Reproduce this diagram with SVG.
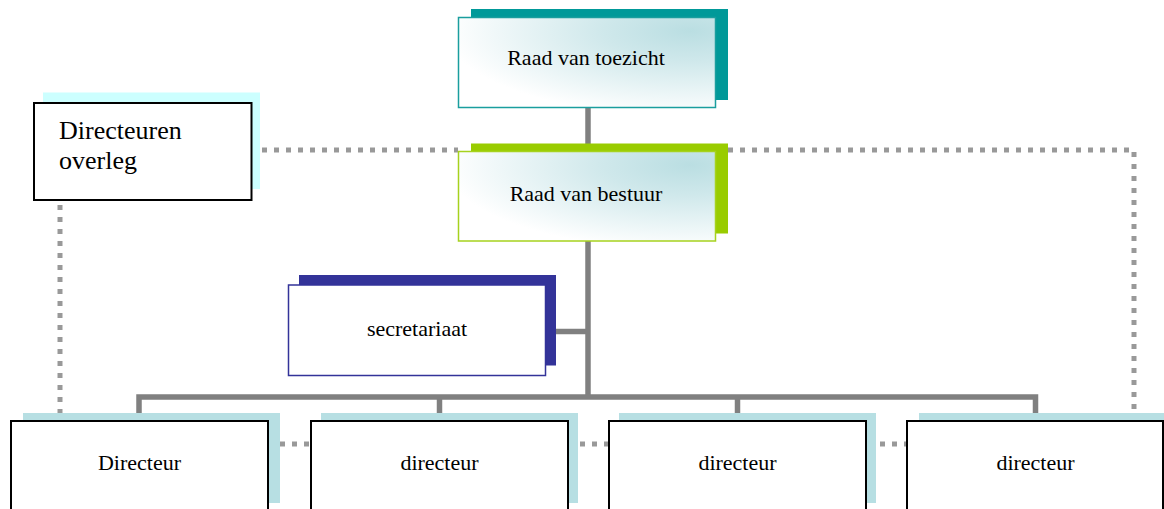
<svg xmlns="http://www.w3.org/2000/svg" width="1164" height="509" viewBox="0 0 1164 509">
<defs>
<radialGradient id="glow" cx="0.9" cy="0.15" r="0.95">
<stop offset="0" stop-color="#badee2"/>
<stop offset="0.35" stop-color="#cfe8eb"/>
<stop offset="1" stop-color="#ffffff"/>
</radialGradient>
</defs>
<style>
.solid{fill:none;stroke:#808080;stroke-width:5.5}
.dot{fill:none;stroke:#999999;stroke-width:5;stroke-dasharray:5 7}
.t{font-family:"Liberation Serif","Times New Roman",serif;font-size:22px;fill:#000;text-anchor:middle}
.big{font-family:"Liberation Serif","Times New Roman",serif;font-size:26px;fill:#000}
.dirsh{fill:#b7dfe3}
.dirbox{fill:#fff;stroke:#000;stroke-width:2}
</style>
<rect width="1164" height="509" fill="#ffffff"/>
<g id="connectors">
<polyline class="dot" points="262,150 458,150"/>
<polyline class="dot" points="728,150 1134,150 1134,413"/>
<polyline class="dot" points="60,205 60,413"/>
<polyline class="dot" points="268,444 1035,444"/>
<polyline class="solid" points="588,107 588,152"/>
<polyline class="solid" points="588,241 588,397"/>
<polyline class="solid" points="556,331.5 588,331.5"/>
<polyline class="solid" points="139,413 139,397 1035.5,397 1035.5,413"/>
<polyline class="solid" points="439.5,397 439.5,413"/>
<polyline class="solid" points="737.5,397 737.5,413"/>
</g>
<g id="raad-van-toezicht">
<rect x="471" y="9" width="257" height="91" fill="#009999"/>
<rect x="458.5" y="17.5" width="257" height="90" fill="url(#glow)" stroke="#1a9e9e" stroke-width="1.5"/>
<text class="t" x="586" y="65">Raad van toezicht</text>
</g>
<g id="raad-van-bestuur">
<rect x="471" y="143.5" width="257" height="90" fill="#99cc00"/>
<rect x="458.5" y="151.5" width="257" height="89.5" fill="url(#glow)" stroke="#a6d21e" stroke-width="1.5"/>
<text class="t" x="586" y="201">Raad van bestuur</text>
</g>
<g id="directeuren-overleg">
<rect x="43" y="92.5" width="217" height="96.5" fill="#ccffff"/>
<rect x="34" y="103" width="217.5" height="97" fill="#ffffff" stroke="#000" stroke-width="2"/>
<text class="big" x="59" y="139">Directeuren</text>
<text class="big" x="59" y="169">overleg</text>
</g>
<g id="secretariaat">
<rect x="299" y="275" width="257" height="90.5" fill="#333399"/>
<rect x="288.5" y="285" width="257" height="90.5" fill="#ffffff" stroke="#333399" stroke-width="1.5"/>
<text class="t" x="417" y="336">secretariaat</text>
</g>
<g id="directeur-1">
<rect class="dirsh" x="23" y="413" width="257" height="90"/>
<rect class="dirbox" x="11" y="421" width="257" height="92"/>
<text class="t" x="139.5" y="470">Directeur</text>
</g>
<g id="directeur-2">
<rect class="dirsh" x="321" y="413" width="257" height="90"/>
<rect class="dirbox" x="311" y="421" width="257" height="92"/>
<text class="t" x="439.5" y="470">directeur</text>
</g>
<g id="directeur-3">
<rect class="dirsh" x="619" y="413" width="257" height="90"/>
<rect class="dirbox" x="609" y="421" width="257" height="92"/>
<text class="t" x="737.5" y="470">directeur</text>
</g>
<g id="directeur-4">
<rect class="dirsh" x="919" y="413" width="257" height="90"/>
<rect class="dirbox" x="907" y="421" width="256" height="92"/>
<text class="t" x="1035.5" y="470">directeur</text>
</g>
</svg>
